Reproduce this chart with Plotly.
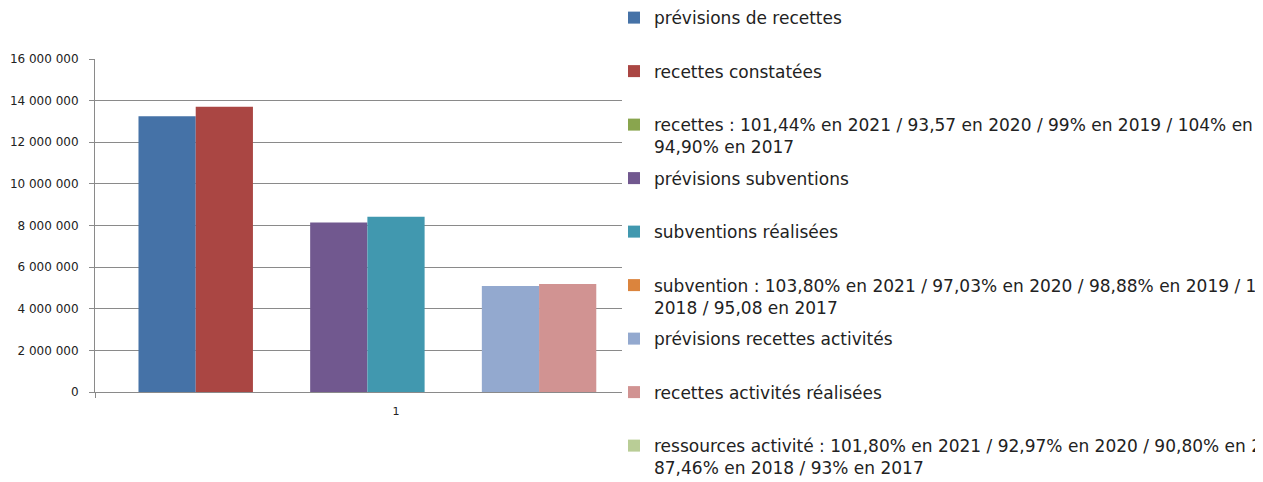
import plotly.graph_objects as go

# Données
categories = ["1"]
series_names = [
    "prévisions de recettes",
    "recettes constatées",
    "recettes : 101,44% en 2021 / 93,57 en 2020 / 99% en 2019 / 104% en<br>94,90% en 2017",
    "prévisions subventions",
    "subventions réalisées",
    "subvention : 103,80% en 2021 / 97,03% en 2020 / 98,88% en 2019 / 1<br>2018 / 95,08 en 2017",
    "prévisions recettes activités",
    "recettes activités réalisées",
    "ressources activité : 101,80% en 2021 / 92,97% en 2020 / 90,80% en 2<br>87,46% en 2018 / 93% en 2017",
]
series_values = [13250000, 13710000, 0, 8150000, 8420000, 0, 5090000, 5190000, 0]
series_colors = ["#4572A7", "#AA4643", "#89A54E", "#71588F", "#4198AF",
                 "#DB843D", "#93A9CF", "#D19392", "#B9CD96"]
y_ticks = [0, 2000000, 4000000, 6000000, 8000000, 10000000, 12000000, 14000000, 16000000]

fig = go.Figure()
for i, (nom, val, col) in enumerate(zip(series_names, series_values, series_colors)):
    # toutes les entrées de légende sur deux lignes pour un espacement régulier
    label = nom if "<br>" in nom else nom + "<br>\u00a0"
    fig.add_trace(go.Bar(x=categories, y=[val], name=label, marker_color=col,
                         marker_line_width=0, legendgroup=str(i)))

# cache la partie du graphique sous la légende (rendu Excel)
fig.add_shape(type="rect", xref="paper", yref="paper", x0=0.8754, x1=2.0,
              y0=-0.06, y1=1.05, fillcolor="white", line_width=0, layer="above")

# la page html ajoute une marge de 8 px autour du graphique
fig.update_layout(
    width=1255, height=474,
    margin=dict(l=87, r=566, t=51, b=90, autoexpand=False),
    paper_bgcolor="white", plot_bgcolor="white",
    separators=", ",
    barmode="group", bargap=0.1445, bargroupgap=0,
    font=dict(family="DejaVu Sans", color="#222222"),
    showlegend=True,
    legend=dict(x=0.8621, y=1.177, xanchor="left", yanchor="top",
                traceorder="grouped", tracegroupgap=6.3, valign="top",
                bgcolor="rgba(0,0,0,0)", font=dict(size=17, color="#222222"),
                maxheight=700),
)
fig.update_yaxes(range=[0, 16000000], tickvals=y_ticks, tickformat=",",
                 showgrid=True, gridcolor="#8a8a8a", gridwidth=1,
                 showline=True, linecolor="#8a8a8a", linewidth=1,
                 ticks="outside", ticklen=5, tickcolor="#8a8a8a",
                 ticklabelstandoff=8, zeroline=False,
                 tickfont=dict(size=12, color="#222222"))
fig.update_xaxes(type="category", showline=True, linecolor="#8a8a8a", linewidth=1,
                 ticks="outside", tickson="boundaries", ticklen=5, tickcolor="#8a8a8a",
                 ticklabelstandoff=9,
                 tickfont=dict(size=11, color="#222222"), showgrid=False)

fig.write_html("out.html")
